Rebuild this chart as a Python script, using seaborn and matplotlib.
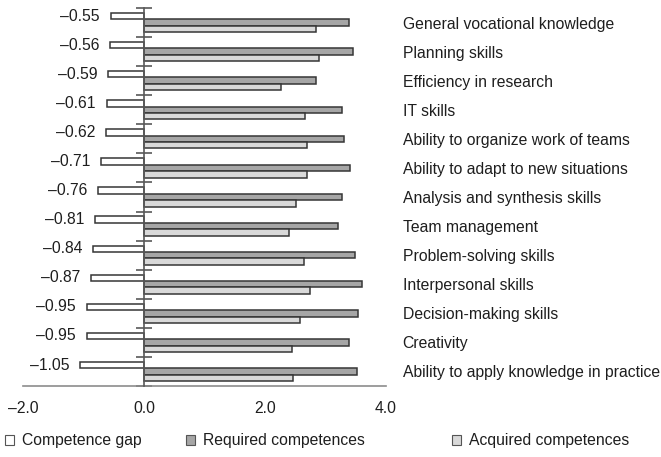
import matplotlib
matplotlib.use("Agg")
import matplotlib.pyplot as plt
from matplotlib.patches import Patch
import seaborn as sns
import pandas as pd

categories = [
    "General vocational knowledge",
    "Planning skills",
    "Efficiency in research",
    "IT skills",
    "Ability to organize work of teams",
    "Ability to adapt to new situations",
    "Analysis and synthesis skills",
    "Team management",
    "Problem-solving skills",
    "Interpersonal skills",
    "Decision-making skills",
    "Creativity",
    "Ability to apply knowledge in practice",
]
gap = [-0.55, -0.56, -0.59, -0.61, -0.62, -0.71, -0.76, -0.81, -0.84, -0.87, -0.95, -0.95, -1.05]
required = [3.39, 3.45, 2.85, 3.27, 3.31, 3.41, 3.28, 3.20, 3.48, 3.61, 3.53, 3.39, 3.52]
acquired = [2.84, 2.89, 2.26, 2.66, 2.69, 2.70, 2.52, 2.39, 2.64, 2.74, 2.58, 2.44, 2.46]
series_names = ["Competence gap", "Required competences", "Acquired competences"]
x_ticks = [-2.0, 0.0, 2.0, 4.0]
x_tick_labels = ["\u20132.0", "0.0", "2.0", "4.0"]

sns.set_style("white")
plt.rcParams["font.family"] = ["Liberation Sans", "DejaVu Sans"]
FS = 11.3
TXT = "#1e1e1e"

rows = []
for name, vals in zip(series_names, [gap, required, acquired]):
    for c, v in zip(categories, vals):
        rows.append({"category": c, "series": name, "value": v})
df = pd.DataFrame(rows)

colors = ["#ffffff", "#a6a6a6", "#d9d9d9"]
edge = "#363636"

fig = plt.figure(figsize=(6.61, 4.57), dpi=100)
ax = fig.add_axes([23 / 661, 71 / 457, (386 - 23) / 661, (386 - 8) / 457])

sns.barplot(data=df, x="value", y="category", hue="series", hue_order=series_names,
            order=categories, palette=colors, orient="h", width=0.66,
            edgecolor=edge, linewidth=1.1, errorbar=None, legend=False, ax=ax, zorder=2)

ax.set_xlim(-2, 4)
ax.set_ylim(len(categories) - 0.5, -0.5)
ax.set_xticks(x_ticks)
ax.set_xticklabels(x_tick_labels, fontsize=FS, color=TXT)
ax.tick_params(axis="x", direction="in", length=5, width=1, color="#808080", pad=11)
ax.set_xlabel("")
ax.set_ylabel("")

# y axis at zero with crossing ticks on category boundaries
ax.spines["left"].set_position(("data", 0))
ax.spines["left"].set_color("#595959")
ax.spines["left"].set_linewidth(1.2)
ax.spines["left"].set_zorder(3)
ax.spines["bottom"].set_color("#8c8c8c")
ax.spines["bottom"].set_linewidth(1.2)
ax.spines["top"].set_visible(False)
ax.spines["right"].set_visible(False)
ax.set_yticks([i - 0.5 for i in range(len(categories) + 1)])
ax.set_yticklabels([])
ax.tick_params(axis="y", direction="inout", length=12, width=1.2, color="#595959")

# gap value labels
gap_labels = [f"\u2013{abs(v):.2f}" for v in gap]
ax.bar_label(ax.containers[0], labels=gap_labels, padding=8, fontsize=FS, color=TXT)

# category labels on the right
ax2 = ax.twinx()
ax2.set_ylim(ax.get_ylim())
ax2.set_yticks(range(len(categories)))
ax2.set_yticklabels(categories, fontsize=FS, color=TXT)
ax2.tick_params(axis="y", length=0, pad=12)
for s in ax2.spines.values():
    s.set_visible(False)

# legend
handles = [Patch(facecolor=c, edgecolor="#555555", linewidth=0.8) for c in colors]
x_pos = [5 / 661, 186 / 661, 452 / 661]
for h, n, xp in zip(handles, series_names, x_pos):
    fig.legend([h], [n], loc="center left", bbox_to_anchor=(xp, 16 / 457), frameon=False,
               fontsize=FS, handlelength=0.6, handleheight=0.6, handletextpad=0.5,
               borderpad=0, borderaxespad=0, labelcolor=TXT)

fig.savefig("out.png", dpi=100)
